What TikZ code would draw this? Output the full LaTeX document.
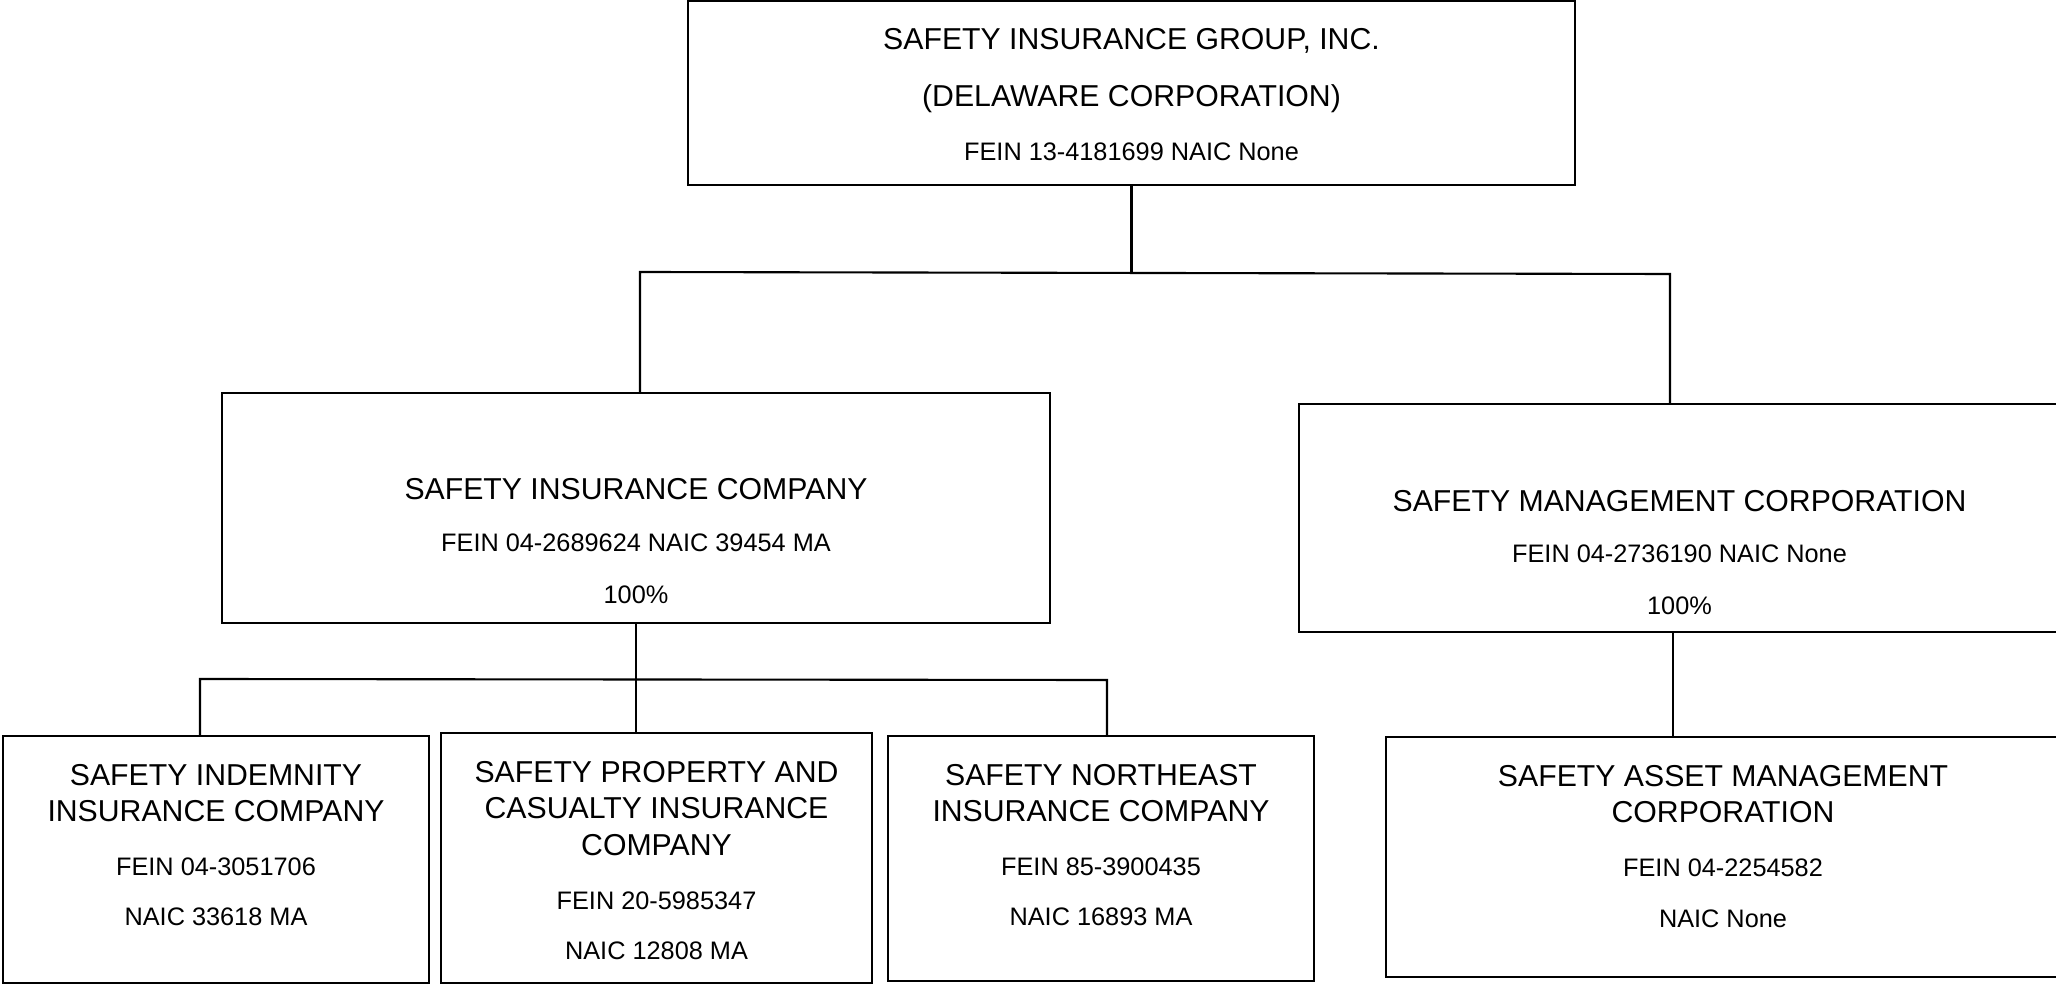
\documentclass[tikz,border=0pt]{standalone}
\usepackage{fontspec}
\setmainfont{Liberation Sans}
\usetikzlibrary{positioning}
\newcommand{\orgttl}{\fontsize{8.6}{10.4}\selectfont}

\begin{document}
\begin{tikzpicture}[
  font=\fontsize{7.2}{10.4}\selectfont,
  entity/.style={rectangle, draw, line width=0.6pt, inner sep=0pt},
  entitytxt/.style={align=center, inner sep=0pt},
  link/.style={line width=0.6pt}
]
\useasboundingbox (0,0) rectangle (20.56,-9.85);

% Boxes
\node[entity, minimum width=88.7mm, minimum height=18.4mm] (group) at (11.315,-0.93) {};
\node[entity, minimum width=82.8mm, minimum height=23.0mm] (sic) at (6.36,-5.08) {};
\node[entity, minimum width=76.1mm, minimum height=22.8mm] (smc) at (16.795,-5.18) {};
\node[entity, minimum width=42.6mm, minimum height=24.7mm] (indem) at (2.16,-8.595) {};
\node[entity, minimum width=43.1mm, minimum height=25.0mm] (propcas) at (6.565,-8.58) {};
\node[entity, minimum width=42.6mm, minimum height=24.5mm] (northeast) at (11.01,-8.585) {};
\node[entity, minimum width=67.4mm, minimum height=24.0mm] (asset) at (17.23,-8.57) {};

% Texts
\node[entitytxt, below=2.75mm of group.north] (grouptxt) {{\orgttl SAFETY INSURANCE GROUP, INC.}\\[6.0pt]
  {\orgttl (DELAWARE CORPORATION)}\\[4.8pt] FEIN 13-4181699 NAIC None};
\node[entitytxt, below=8.55mm of sic.north] (sictxt) {{\orgttl SAFETY INSURANCE COMPANY}\\[4.4pt]
  FEIN 04-2689624 NAIC 39454 MA\\[4.5pt] 100\%};
\node[entitytxt, below=8.65mm of smc.north] (smctxt) {{\orgttl SAFETY MANAGEMENT CORPORATION}\\[4.2pt]
  FEIN 04-2736190 NAIC None\\[4.5pt] 100\%};
\node[entitytxt, below=2.85mm of indem.north] (indemtxt) {{\orgttl SAFETY INDEMNITY}\\
  {\orgttl INSURANCE COMPANY}\\[5.0pt] FEIN 04-3051706\\[3.8pt] NAIC 33618 MA};
\node[entitytxt, below=2.85mm of propcas.north] (propcastxt) {{\orgttl SAFETY PROPERTY AND}\\
  {\orgttl CASUALTY INSURANCE}\\ {\orgttl COMPANY}\\[5.0pt] FEIN 20-5985347\\[3.8pt] NAIC 12808 MA};
\node[entitytxt, below=2.85mm of northeast.north] (northeasttxt) {{\orgttl SAFETY NORTHEAST}\\
  {\orgttl INSURANCE COMPANY}\\[5.0pt] FEIN 85-3900435\\[3.8pt] NAIC 16893 MA};
\node[entitytxt, below=2.85mm of asset.north] (assettxt) {{\orgttl SAFETY ASSET MANAGEMENT}\\
  {\orgttl CORPORATION}\\[5.0pt] FEIN 04-2254582\\[4.1pt] NAIC None};

% Connectors
\coordinate (busl) at (6.40,-2.72);
\coordinate (busr) at (16.70,-2.74);
\coordinate (subl) at (2.00,-6.79);
\coordinate (subr) at (11.07,-6.80);
\coordinate (mgmt) at (16.73,-6.32);

\draw[link] (group.south) -- (group.south |- busl);
\draw[link] (busl |- sic.north) -- (busl) -- (busr) -- (busr |- smc.north);
\draw[link] (sic.south) -- (sic.south |- propcas.north);
\draw[link] (subl |- indem.north) -- (subl) -- (subr) -- (subr |- northeast.north);
\draw[link] (mgmt) -- (mgmt |- asset.north);

\end{tikzpicture}
\end{document}
